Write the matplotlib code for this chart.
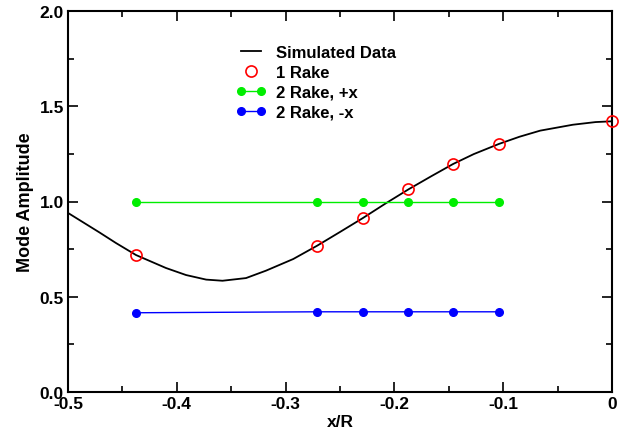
import numpy as np
import matplotlib
matplotlib.use('Agg')
import matplotlib.pyplot as plt
from matplotlib.legend_handler import HandlerLine2D

plt.rcParams['font.family'] = ['Liberation Sans', 'DejaVu Sans']
plt.rcParams['font.weight'] = 'bold'
plt.rcParams['axes.linewidth'] = 1.5
plt.rcParams['xtick.direction'] = 'in'
plt.rcParams['ytick.direction'] = 'in'
plt.rcParams['xtick.major.size'] = 7
plt.rcParams['ytick.major.size'] = 7
plt.rcParams['xtick.minor.size'] = 4
plt.rcParams['ytick.minor.size'] = 4
plt.rcParams['xtick.major.width'] = 1.2
plt.rcParams['ytick.major.width'] = 1.2
plt.rcParams['xtick.minor.width'] = 1.2
plt.rcParams['ytick.minor.width'] = 1.2

# simulated mode amplitude curve
sim_x = [-0.5, -0.4712, -0.4559, -0.4375, -0.41, -0.3915, -0.373, -0.358,
         -0.3364, -0.318, -0.293, -0.271, -0.25, -0.229, -0.208, -0.187,
         -0.166, -0.146, -0.127, -0.104, -0.085, -0.066, -0.036, -0.015, 0.0]
sim_y = [0.94, 0.838, 0.782, 0.719, 0.651, 0.614, 0.590, 0.584,
         0.598, 0.637, 0.698, 0.768, 0.84, 0.913, 0.99, 1.064,
         1.133, 1.197, 1.249, 1.302, 1.34, 1.372, 1.403, 1.417, 1.421]

# rake measurements
rake1_x = [-0.4375, -0.2709, -0.2286, -0.1872, -0.1458, -0.1039, 0.0]
rake1_y = [0.719, 0.766, 0.913, 1.064, 1.197, 1.302, 1.421]

rake2_x = [-0.4375, -0.2709, -0.2286, -0.1872, -0.1458, -0.1039]
rake2_plus_y = [1.0, 1.0, 1.0, 1.0, 1.0, 1.0]
rake2_minus_y = [0.416, 0.421, 0.421, 0.421, 0.421, 0.421]

fig = plt.figure(figsize=(6.26, 4.39), dpi=100)
ax = fig.add_subplot(111)
fig.subplots_adjust(left=68/626, right=612/626, bottom=1-393/439, top=1-12/439)

l_sim, = ax.plot(sim_x, sim_y, color='k', lw=1.3, label='Simulated Data')
l_r1, = ax.plot(rake1_x, rake1_y, ls='None', marker='o', mfc='none', mec='#ff0000',
                mew=1.2, ms=8, label='1 Rake', clip_on=False, zorder=5)
l_p, = ax.plot(rake2_x, rake2_plus_y, color='#00ee00', marker='o', ms=5.5,
               lw=1.0, label='2 Rake, +x')
l_m, = ax.plot(rake2_x, rake2_minus_y, color='#0000ff', marker='o', ms=5.5,
               lw=1.0, label='2 Rake, -x')

ax.set_xlim(-0.5, 0)
ax.set_ylim(0, 2.0)
ax.set_xticks(np.arange(-0.5, 0.01, 0.1))
ax.set_xticks(np.arange(-0.45, 0.0, 0.1), minor=True)
ax.set_yticks(np.arange(0, 2.01, 0.5))
ax.set_yticks(np.arange(0.25, 2.0, 0.5), minor=True)
ax.set_xticklabels(['-0.5', '-0.4', '-0.3', '-0.2', '-0.1', '0'])
ax.set_yticklabels(['0.0', '0.5', '1.0', '1.5', '2.0'])
ax.tick_params(which='both', top=True, right=True, labelsize=12.5, pad=3)
for lab in ax.get_xticklabels() + ax.get_yticklabels():
    lab.set_fontweight('bold')

ax.set_xlabel('x/R', fontsize=12.5, fontweight='bold', labelpad=2)
ax.set_ylabel('Mode Amplitude', fontsize=13, fontweight='bold', labelpad=4)

leg = ax.legend(handles=[l_sim, l_r1, l_p, l_m], loc='upper left',
                bbox_to_anchor=(0.282, 0.95), frameon=False, fontsize=12,
                numpoints=2, handlelength=1.8, handletextpad=0.6,
                labelspacing=0.29,
                handler_map={l_r1: HandlerLine2D(numpoints=1)})
for t in leg.get_texts():
    t.set_fontweight('bold')

plt.savefig('out.png', dpi=100)
